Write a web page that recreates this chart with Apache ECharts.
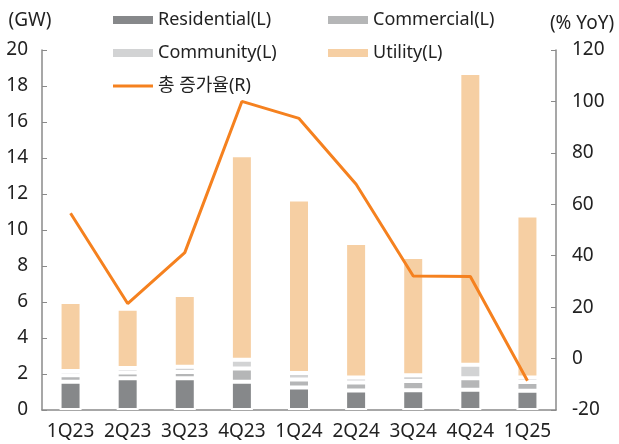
<!DOCTYPE html>
<html>
<head>
<meta charset="utf-8">
<script src="https://cdn.jsdelivr.net/npm/echarts@6/dist/echarts.min.js"></script>
<style>
  html, body { margin: 0; padding: 0; background: #fff; }
  #chart { width: 619px; height: 444px; }
</style>
</head>
<body>
<div id="chart"></div>
<script>
const quarters = ["1Q23", "2Q23", "3Q23", "4Q23", "1Q24", "2Q24", "3Q24", "4Q24", "1Q25"];
const residential = [1.57, 1.77, 1.77, 1.57, 1.25, 1.09, 1.10, 1.13, 1.07];
const commercial = [0.36, 0.32, 0.34, 0.73, 0.44, 0.44, 0.51, 0.63, 0.49];
const community = [0.23, 0.24, 0.29, 0.49, 0.36, 0.28, 0.32, 0.76, 0.25];
const utility = [3.84, 3.30, 3.99, 11.36, 9.65, 7.47, 6.57, 16.20, 8.99];
const yoyGrowth = [56.5, 21.4, 41.2, 100, 93.4, 67.8, 32.1, 31.9, -8.6];

const font = "'Noto Sans', 'Noto Sans CJK KR', sans-serif";
const axisColor = "#8a8a8a";
const textColor = "#222";
const lineColor = "#f5811f";

// 막대 계열 공통 스타일
function barSeries(name, data, color) {
  return {
    name: name,
    type: "bar",
    stack: "total",
    barWidth: 22,
    data: data,
    itemStyle: { color: color, borderColor: "#fff", borderWidth: 2 }
  };
}

function legendItem(name, left, top, height, color) {
  return {
    data: [{ name: name, itemStyle: { color: color, borderWidth: 0 } }],
    left: left,
    top: top,
    icon: "rect",
    itemWidth: 40,
    itemHeight: height,
    itemGap: 6,
    textStyle: { fontFamily: font, fontSize: 18, color: textColor }
  };
}

const option = {
  animation: false,
  grid: { left: 42, right: 63, top: 50, bottom: 34 },
  legend: [
    legendItem("Residential(L)", 108, 6, 8, "#86888a"),
    legendItem("Commercial(L)", 323, 6, 8, "#b5b6b7"),
    legendItem("Community(L)", 108, 39, 8, "#d2d3d4"),
    legendItem("Utility(L)", 323, 39, 8, "#f6cfa3"),
    legendItem("총 증가율(R)", 108, 72, 3, lineColor)
  ],
  xAxis: {
    type: "category",
    data: quarters,
    axisLine: { lineStyle: { color: axisColor, width: 1.5 } },
    axisTick: { inside: true, length: 5, lineStyle: { color: axisColor } },
    axisLabel: { fontFamily: font, fontSize: 19, color: textColor, margin: 12, interval: 0 }
  },
  yAxis: [
    {
      type: "value",
      min: 0,
      max: 20,
      interval: 2,
      name: "(GW)",
      nameGap: 20,
      nameTextStyle: { fontFamily: font, fontSize: 19, color: textColor, align: "center", padding: [0, 24, 0, 0] },
      splitLine: { show: false },
      axisLine: { show: true, lineStyle: { color: axisColor, width: 1.5 } },
      axisTick: { show: true, inside: true, length: 5, lineStyle: { color: axisColor } },
      axisLabel: { fontFamily: font, fontSize: 19, color: textColor, margin: 14 }
    },
    {
      type: "value",
      min: -20,
      max: 120,
      interval: 20,
      name: "(% YoY)",
      nameGap: 17,
      nameTextStyle: { fontFamily: font, fontSize: 19, color: textColor, align: "center", padding: [0, 0, 0, 52] },
      splitLine: { show: false },
      axisLine: { show: true, lineStyle: { color: axisColor, width: 1.5 } },
      axisTick: { show: true, inside: true, length: 5, lineStyle: { color: axisColor } },
      axisLabel: { fontFamily: font, fontSize: 19, color: textColor, margin: 16 }
    }
  ],
  series: [
    barSeries("Residential(L)", residential, "#86888a"),
    barSeries("Commercial(L)", commercial, "#b5b6b7"),
    barSeries("Community(L)", community, "#d2d3d4"),
    barSeries("Utility(L)", utility, "#f6cfa3"),
    {
      name: "총 증가율(R)",
      type: "line",
      yAxisIndex: 1,
      data: yoyGrowth,
      symbol: "none",
      itemStyle: { color: lineColor },
      lineStyle: { color: lineColor, width: 3 },
      z: 5
    }
  ]
};

const chartObj = echarts.init(document.getElementById("chart"));
chartObj.setOption(option);
</script>
</body>
</html>
